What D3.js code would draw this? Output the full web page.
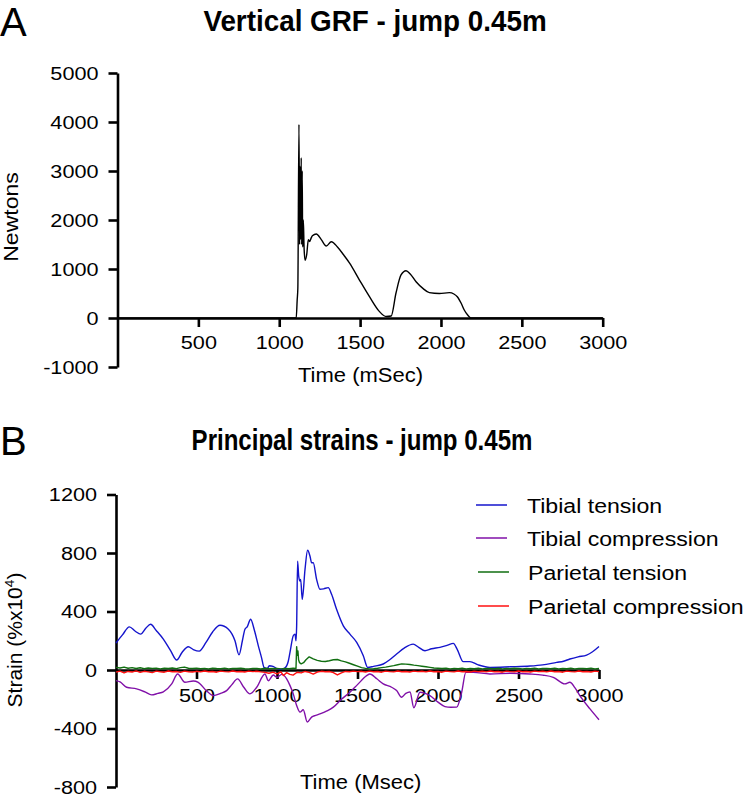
<!DOCTYPE html>
<html><head><meta charset="utf-8">
<script src="https://cdn.jsdelivr.net/npm/d3@7"></script>
<style>body{margin:0;background:#fff}svg{display:block}text{font-family:"Liberation Sans",Arial,sans-serif;fill:#000}</style>
</head><body><svg id="c" width="750" height="796"></svg>
<script>
// ---------- Panel A data: vertical ground reaction force ----------
const grfTime  = [0,500,1000,1105,1111,1115,1122,1126,1129,1132,1136,1139,1142,1145,1149,1154,1160,1170,1180,1188,1196,1205,1229,1260,1291,1322,1360,1400,1435,1496,1558,1620,1661,1692,1722,1753,1784,1810,1846,1890,1928,1990,2052,2080,2101,2125,2144,2165,2185,2500,3000];
const grfForce = [0,0,0,0,370,600,3950,1500,3100,1600,3270,1500,3000,1450,2000,1400,1180,1300,1600,1560,1620,1680,1714,1600,1470,1557,1450,1280,1120,775,435,130,30,40,510,880,965,900,740,600,517,500,517,490,435,300,163,60,0,0,0];
const xTicksA = [500,1000,1500,2000,2500,3000];
const yTicksA = [-1000,0,1000,2000,3000,4000,5000];

// ---------- Panel B data: principal strains ([time ms, strain]) ----------
const tibialTension = [[0,184],[40,240],[83,295],[120,265],[153,245],[185,285],[215,313],[250,270],[294,211],[340,130],[377,68],[410,120],[449,159],[480,140],[517,129],[560,190],[600,260],[646,306],[698,279],[739,200],[764,104],[785,200],[801,279],[815,295],[836,347],[860,270],[884,165],[905,80],[919,18],[940,10],[952,29],[975,25],[1000,10],[1025,5],[1050,15],[1070,60],[1081,122],[1101,234],[1112,245],[1118,200],[1122,300],[1128,744],[1135,640],[1143,608],[1147,620],[1157,483],[1174,688],[1190,819],[1205,778],[1215,733],[1225,733],[1246,620],[1267,552],[1290,555],[1318,563],[1339,518],[1370,415],[1412,302],[1453,245],[1495,189],[1536,98],[1563,18],[1600,25],[1660,41],[1700,70],[1743,109],[1790,150],[1846,177],[1880,155],[1919,132],[1960,145],[2012,155],[2060,170],[2095,182],[2120,140],[2157,57],[2198,57],[2250,35],[2323,18],[2450,22],[2571,27],[2650,35],[2737,52],[2780,60],[2819,75],[2870,90],[2923,102],[2960,125],[3000,161]];
const tibialCompression = [[0,-73],[25,-82],[66,-118],[128,-129],[180,-150],[221,-170],[260,-160],[294,-150],[346,-95],[383,-27],[428,-84],[480,-75],[511,-84],[560,-140],[604,-175],[650,-160],[687,-141],[720,-100],[755,-61],[795,-120],[832,-163],[874,-118],[925,-27],[946,-73],[977,-34],[1000,-50],[1030,-30],[1060,-60],[1081,-107],[1100,-160],[1122,-243],[1143,-288],[1163,-272],[1188,-356],[1215,-322],[1240,-310],[1267,-300],[1310,-280],[1350,-254],[1400,-200],[1453,-152],[1500,-100],[1557,-39],[1577,-27],[1620,-60],[1660,-95],[1712,-118],[1743,-141],[1774,-186],[1800,-160],[1826,-150],[1850,-258],[1888,-152],[1920,-160],[1950,-175],[2000,-220],[2043,-250],[2080,-255],[2116,-254],[2147,-152],[2173,-16],[2219,-16],[2323,-27],[2450,-22],[2571,-27],[2650,-35],[2716,-50],[2788,-95],[2819,-84],[2850,-120],[2881,-175],[2944,-266],[3000,-340]];
const parietalTension = [[0,18],[25,14],[50,20],[75,12],[100,16],[125,10],[150,15],[175,9],[200,14],[225,11],[250,13],[275,8],[300,12],[325,10],[350,14],[375,9],[400,16],[425,20],[450,12],[475,10],[500,13],[525,9],[550,11],[575,8],[600,12],[625,10],[650,9],[675,13],[700,8],[725,11],[750,10],[775,12],[800,9],[825,8],[850,11],[875,10],[900,7],[925,12],[950,9],[975,10],[1000,11],[1025,8],[1050,10],[1075,9],[1100,12],[1118,10],[1122,160],[1126,100],[1130,130],[1134,70],[1140,50],[1150,42],[1165,50],[1180,70],[1200,90],[1225,76],[1250,66],[1275,60],[1300,58],[1325,63],[1350,70],[1375,72],[1400,62],[1425,56],[1450,46],[1475,36],[1500,26],[1525,16],[1550,11],[1575,8],[1600,9],[1625,12],[1650,16],[1675,20],[1700,25],[1725,30],[1750,36],[1775,42],[1800,40],[1825,38],[1850,33],[1875,30],[1900,26],[1925,22],[1950,18],[1975,14],[2000,12],[2025,10],[2050,12],[2075,8],[2100,11],[2125,9],[2150,12],[2175,8],[2200,10],[2225,9],[2250,12],[2275,8],[2300,10],[2325,11],[2350,9],[2375,12],[2400,8],[2425,10],[2450,9],[2475,12],[2500,10],[2525,8],[2550,11],[2575,9],[2600,12],[2625,8],[2650,10],[2675,11],[2700,9],[2725,12],[2750,8],[2775,10],[2800,9],[2825,12],[2850,8],[2875,10],[2900,11],[2925,9],[2950,12],[2975,8],[3000,10]];
const parietalCompression = [[0,-15],[25,-8],[50,-20],[75,-10],[100,-14],[125,-6],[150,-16],[175,-9],[200,-13],[225,-18],[250,-8],[275,-12],[300,-15],[325,-7],[350,-12],[375,-10],[400,-16],[425,-8],[450,-12],[475,-14],[500,-9],[525,-13],[550,-7],[575,-12],[600,-10],[625,-15],[650,-8],[675,-11],[700,-13],[725,-7],[750,-12],[775,-10],[800,-14],[825,-8],[850,-11],[875,-9],[900,-13],[925,-16],[950,-22],[975,-14],[1000,-26],[1025,-12],[1040,-38],[1060,-18],[1080,-30],[1100,-35],[1125,-15],[1150,-20],[1175,-10],[1200,-16],[1225,-28],[1250,-14],[1275,-9],[1300,-12],[1325,-10],[1350,-18],[1375,-34],[1400,-20],[1425,-10],[1450,-12],[1475,-8],[1500,-11],[1525,-9],[1550,-14],[1575,-8],[1600,-12],[1625,-10],[1650,-15],[1675,-8],[1700,-11],[1725,-13],[1750,-7],[1775,-12],[1800,-10],[1825,-14],[1850,-8],[1875,-11],[1900,-9],[1925,-13],[1950,-7],[1975,-12],[2000,-10],[2025,-15],[2050,-8],[2075,-11],[2100,-13],[2125,-7],[2150,-12],[2175,-10],[2200,-14],[2225,-8],[2250,-11],[2275,-9],[2300,-13],[2325,-7],[2350,-12],[2375,-10],[2400,-15],[2425,-8],[2450,-11],[2475,-13],[2500,-7],[2525,-12],[2550,-10],[2575,-14],[2600,-8],[2625,-11],[2650,-9],[2675,-13],[2700,-7],[2725,-12],[2750,-10],[2775,-15],[2800,-8],[2825,-11],[2850,-13],[2875,-7],[2900,-12],[2925,-10],[2950,-14],[2975,-8],[3000,-11]];
const xTicksB = [500,1000,1500,2000,2500,3000];
const yTicksB = [-800,-400,0,400,800,1200];
const seriesNames = ["Tibial tension","Tibial compression","Parietal tension","Parietal compression"];
const seriesColors = ["#1414cc","#8010a8","#106e10","#ff1010"];

// ---------- drawing ----------
const svg = d3.select("#c");
const SX = 1.14; // horizontal stretch of the figure's sans text
const fmt = d => String(d); // plain hyphen-minus like the reference

function stext(g, x, y, str, size, sx, anchor, weight){
  const t = g.append("g").attr("transform",`translate(${x},${y}) scale(${sx},1)`)
    .append("text").attr("text-anchor",anchor||"start").style("font-size",size+"px")
    .style("font-weight",weight||"normal").text(str);
  return t;
}
function styleAxis(g, side){
  g.select(".domain").attr("stroke","#000").attr("stroke-width",2.6);
  g.selectAll(".tick line").attr("stroke","#000").attr("stroke-width",2.6);
  g.selectAll(".tick text").style("font-size","19px").attr("fill","#000")
    .style("font-family",'"Liberation Sans",Arial,sans-serif');
  if(side==="left"){
    g.selectAll(".tick text").each(function(){
      const el=d3.select(this); const x=+el.attr("x");
      el.attr("x", x/SX).attr("transform",`scale(${SX},1)`);
    });
  } else {
    g.selectAll(".tick text").attr("transform",`scale(${SX},1)`);
  }
}

// Panel A
const xA = d3.scaleLinear().domain([0,3000]).range([117.5,602.7]);
const yA = d3.scaleLinear().domain([-1000,5000]).range([367,73]);
const gAy = svg.append("g").attr("transform",`translate(${xA(0)},0)`)
  .call(d3.axisLeft(yA).tickValues(yTicksA).tickSize(9).tickSizeOuter(0).tickPadding(10).tickFormat(fmt));
styleAxis(gAy,"left");
const gAx = svg.append("g").attr("transform",`translate(0,${yA(0)})`)
  .call(d3.axisBottom(xA).tickValues(xTicksA).tickSize(9).tickSizeOuter(0).tickPadding(9).tickFormat(fmt));
styleAxis(gAx,"bottom");
const grf = grfTime.map((t,i)=>[t,grfForce[i]]);
svg.append("path").datum(grf).attr("fill","none").attr("stroke","#000").attr("stroke-width",1.4)
  .attr("stroke-linejoin","round")
  .attr("d", d3.line().x(d=>xA(d[0])).y(d=>yA(d[1])).curve(d3.curveMonotoneX));

stext(svg, 0, 36, "A", 40, 1, "start", "normal");
stext(svg, 375, 31, "Vertical GRF - jump 0.45m", 29, 0.96, "middle", "bold");
svg.append("g").attr("transform","translate(18,217) rotate(-90) scale(1.15,1)")
  .append("text").attr("text-anchor","middle").style("font-size","20px").text("Newtons");
stext(svg, 298, 382, "Time (mSec)", 20, 1.1, "start");

// Panel B
const xB = d3.scaleLinear().domain([0,3000]).range([116,599]);
const yB = d3.scaleLinear().domain([-800,1200]).range([787,494.5]);
const gBy = svg.append("g").attr("transform",`translate(${xB(0)},0)`)
  .call(d3.axisLeft(yB).tickValues(yTicksB).tickSize(9).tickSizeOuter(0).tickPadding(10).tickFormat(fmt));
styleAxis(gBy,"left");
const gBx = svg.append("g").attr("transform",`translate(0,${yB(0)})`)
  .call(d3.axisBottom(xB).tickValues(xTicksB).tickSize(9).tickSizeOuter(0).tickPadding(10).tickFormat(fmt));
styleAxis(gBx,"bottom");

const lineSmooth = d3.line().x(d=>xB(d[0])).y(d=>yB(d[1])).curve(d3.curveMonotoneX);
const lineRaw = d3.line().x(d=>xB(d[0])).y(d=>yB(d[1]));
[tibialTension, tibialCompression, parietalTension, parietalCompression].forEach((s,i)=>{
  svg.append("path").datum(s).attr("fill","none").attr("stroke",seriesColors[i])
    .attr("stroke-width",1.4).attr("stroke-linejoin","round").attr("d", i<2 ? lineSmooth : lineRaw);
});

stext(svg, 0, 455, "B", 40, 1, "start", "normal");
stext(svg, 362, 450, "Principal strains - jump 0.45m", 29, 0.83, "middle", "bold");
const yl = svg.append("g").attr("transform","translate(22,640) rotate(-90) scale(1.05,1)")
  .append("text").attr("text-anchor","middle").style("font-size","20px");
yl.append("tspan").text("Strain (%x10");
yl.append("tspan").attr("dy",-8).style("font-size","13px").text("4");
yl.append("tspan").attr("dy",8).text(")");
stext(svg, 300, 789, "Time (Msec)", 20, 1.1, "start");

// legend
const legX1 = [476,476,478,478], legX2=[507,507,509,509], legTX=[527,527,528,528], legY=[505,538,572,606];
seriesNames.forEach((n,i)=>{
  svg.append("line").attr("x1",legX1[i]).attr("x2",legX2[i]).attr("y1",legY[i]).attr("y2",legY[i])
    .attr("stroke",seriesColors[i]).attr("stroke-width",1.5);
  stext(svg, legTX[i], legY[i]+7.5, n, 21, 1.1, "start");
});
</script></body></html>
